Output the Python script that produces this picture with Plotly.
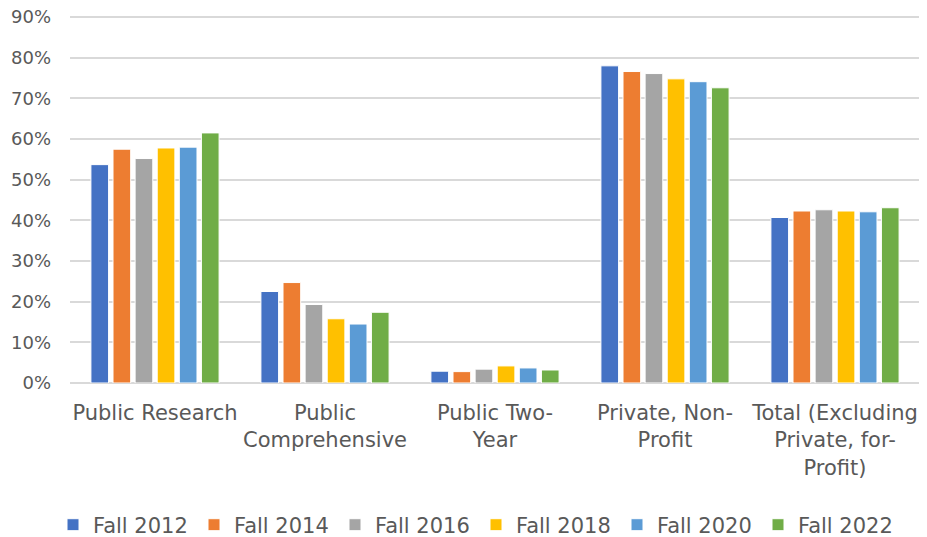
import plotly.graph_objects as go

# Share of students, by institution type and fall term
categories = [
    "Public Research",
    "Public<br>Comprehensive",
    "Public Two-<br>Year",
    "Private, Non-<br>Profit",
    "Total (Excluding<br>Private, for-<br>Profit)",
]
fall_2012 = [0.537, 0.225, 0.029, 0.780, 0.407]
fall_2014 = [0.575, 0.247, 0.028, 0.766, 0.423]
fall_2016 = [0.552, 0.193, 0.034, 0.761, 0.426]
fall_2018 = [0.578, 0.158, 0.042, 0.748, 0.423]
fall_2020 = [0.580, 0.145, 0.037, 0.741, 0.421]
fall_2022 = [0.615, 0.174, 0.032, 0.726, 0.431]

series = [
    ("Fall 2012", fall_2012, "#4472C4"),
    ("Fall 2014", fall_2014, "#ED7D31"),
    ("Fall 2016", fall_2016, "#A5A5A5"),
    ("Fall 2018", fall_2018, "#FFC000"),
    ("Fall 2020", fall_2020, "#5B9BD5"),
    ("Fall 2022", fall_2022, "#70AD47"),
]

fig = go.Figure()
for name, values, color in series:
    fig.add_trace(
        go.Bar(
            name=name,
            x=categories,
            y=values,
            marker=dict(color=color, line=dict(color="white", width=1)),
        )
    )

# the page body adds an 8px offset, so margins are shifted to compensate
fig.update_layout(
    width=927,
    height=537,
    barmode="group",
    bargap=0.22,
    bargroupgap=0.2,
    plot_bgcolor="white",
    paper_bgcolor="white",
    font=dict(family="DejaVu Sans, sans-serif", size=18, color="#595959"),
    margin=dict(l=62, r=15, t=7, b=162, autoexpand=False),
    legend=dict(
        orientation="h",
        x=-0.02,
        xanchor="left",
        y=-0.386,
        yanchor="middle",
        entrywidth=96,
        font=dict(size=21, color="#595959"),
        itemwidth=30,
        tracegroupgap=0,
    ),
)

# a little headroom so the 90% gridline sits inside the plot area
fig.update_yaxes(
    range=[0, 0.905],
    tick0=0,
    dtick=0.1,
    tickformat=".0%",
    gridcolor="#D9D9D9",
    gridwidth=1.5,
    zeroline=True,
    zerolinecolor="#D9D9D9",
    zerolinewidth=1.5,
    ticks="",
    ticklabelstandoff=18,
    ticklabeloverflow="allow",
    automargin=False,
)
fig.update_xaxes(
    tickangle=0,
    showline=False,
    ticks="",
    tickfont=dict(size=21),
    ticklabelstandoff=15,
    automargin=False,
)

fig.write_html("out.html")
